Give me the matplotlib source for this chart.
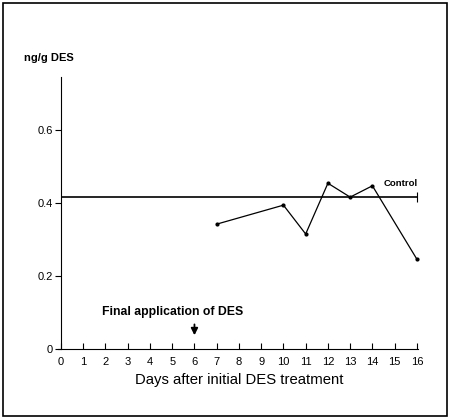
import matplotlib.pyplot as plt
from matplotlib.patches import Rectangle

# data
days = [7, 10, 11, 12, 13, 14, 16]
des_values = [0.342, 0.394, 0.315, 0.454, 0.416, 0.447, 0.246]
control_level = 0.416
x_ticks = list(range(0, 17))
y_ticks = [0, 0.2, 0.4, 0.6]
y_tick_labels = ["0", "0.2", "0.4", "0.6"]
final_day = 6

plt.rcParams['font.family'] = ['Liberation Sans', 'DejaVu Sans']

fig = plt.figure(figsize=(4.53, 4.20), dpi=100)
ax = fig.add_axes([61 / 453, 71 / 420, 357 / 453, 272 / 420])

# frame around the whole figure
fig.patches.append(Rectangle((3 / 453, 4 / 420), 444 / 453, 413 / 420,
                             transform=fig.transFigure, fill=False,
                             edgecolor='black', linewidth=1.2))

# control line with a "+" at the end
ax.plot([0, 16], [control_level, control_level], color='black', linewidth=1.2)
ax.plot([16], [control_level], marker='|', color='black', markersize=7, mew=0.8)
ax.text(16.05, control_level + 0.025, "Control", ha='right', va='bottom',
        fontsize=6.8, fontweight='bold')

# measured series
ax.plot(days, des_values, color='black', linewidth=0.9, marker='o',
        markersize=2, clip_on=False)

# final application marker
ax.annotate("", xy=(final_day, 0.03), xytext=(final_day, 0.075),
            arrowprops=dict(arrowstyle='-|>', color='black', lw=1.3,
                            mutation_scale=10))
ax.text(5.03, 0.085, "Final application of DES", ha='center',
        va='bottom', fontsize=8.8, fontweight='bold')

ax.set_xlim(0, 16.05)
ax.set_ylim(0, 0.745)
ax.spines['top'].set_visible(False)
ax.spines['right'].set_visible(False)
ax.spines['bottom'].set_bounds(-0.15, 16.05)

ax.set_xticks(x_ticks)
ax.set_xticklabels([str(d) for d in x_ticks], fontsize=8)
ax.set_yticks(y_ticks)
ax.set_yticklabels(y_tick_labels, fontsize=8)
ax.tick_params(axis='x', direction='in', length=4, width=0.8, pad=6)
ax.tick_params(axis='y', direction='out', length=4, width=0.8, pad=2)
ax.set_xlabel("Days after initial DES treatment", fontsize=10.7, labelpad=4)

fig.text(24 / 453, 1 - 58 / 420, "ng/g DES", fontsize=8, fontweight='bold',
         va='center', ha='left')

fig.savefig("out.png", dpi=100)
